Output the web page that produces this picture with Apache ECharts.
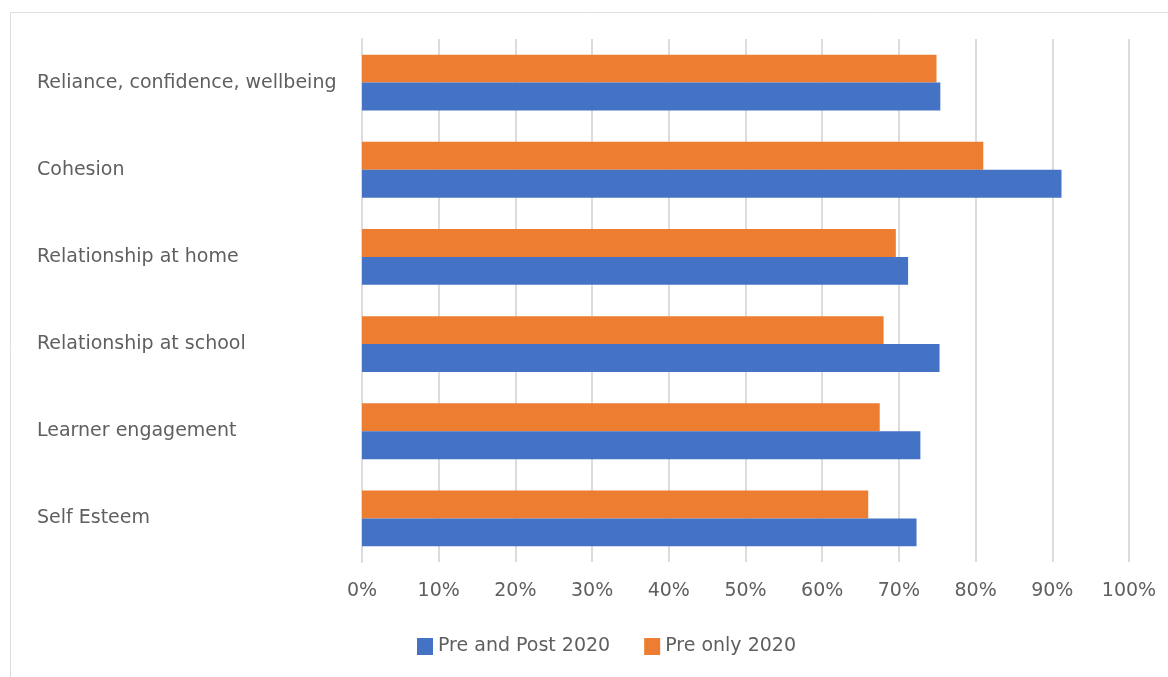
<!DOCTYPE html>
<html lang="en">
   <head>
      <meta charset="utf-8">
      <title>Pre and Post 2020</title>
      <script type="text/javascript" src="https://cdn.jsdelivr.net/npm/echarts@6/dist/echarts.min.js"></script>
      <style>
         html, body { margin: 0; padding: 0; background: #fff; }
         #main { width: 1168px; height: 677px; }
      </style>
   </head>
   <body>
      <div id="main"></div>
      <script>
         var categories = ['Reliance, confidence, wellbeing', 'Cohesion', 'Relationship at home',
                           'Relationship at school', 'Learner engagement', 'Self Esteem'];
         var prePost = [75.4, 91.2, 71.2, 75.3, 72.8, 72.3];   // Pre and Post 2020
         var preOnly = [74.9, 81.0, 69.6, 68.0, 67.5, 66.0];   // Pre only 2020
         var ticks = [0, 10, 20, 30, 40, 50, 60, 70, 80, 90, 100];

         var textColor = '#5f5f5f';
         var font = 'DejaVu Sans';

         var chart = echarts.init(document.getElementById('main'), null, {renderer: 'canvas'});
         chart.setOption({
            animation: false,
            graphic: [{
               type: 'rect',
               shape: {x: 10.5, y: 12.5, width: 1170, height: 670},
               style: {fill: 'none', stroke: '#dedede', lineWidth: 1}
            }],
            legend: {
               data: ['Pre and Post 2020', 'Pre only 2020'],
               left: 417,
               top: 637,
               itemWidth: 16,
               itemHeight: 17,
               itemGap: 34,
               padding: 0,
               icon: 'rect',
               textStyle: {color: textColor, fontSize: 19, fontFamily: font, lineHeight: 17}
            },
            grid: {left: 362, right: 39, top: 39, bottom: 115},
            xAxis: {
               type: 'value',
               min: 0,
               max: 100,
               interval: 10,
               axisLine: {show: false},
               axisTick: {show: false},
               splitLine: {lineStyle: {color: '#dcdcdc', width: 2}},
               axisLabel: {
                  color: textColor, fontSize: 19, fontFamily: font, margin: 20,
                  formatter: function (v) { return ticks.indexOf(v) >= 0 ? v + '%' : ''; }
               }
            },
            yAxis: {
               type: 'category',
               data: categories,
               inverse: true,
               axisLine: {show: true, lineStyle: {color: '#dcdcdc', width: 2}},
               axisTick: {show: false},
               axisLabel: {color: textColor, fontSize: 19, fontFamily: font, align: 'left', margin: 325}
            },
            series: [
               {
                  name: 'Pre only 2020',
                  type: 'bar',
                  data: preOnly,
                  itemStyle: {color: '#ED7D31'},
                  barGap: '0%',
                  barCategoryGap: '36%'
               },
               {
                  name: 'Pre and Post 2020',
                  type: 'bar',
                  data: prePost,
                  itemStyle: {color: '#4472C4'},
                  barGap: '0%',
                  barCategoryGap: '36%'
               }
            ]
         });
      </script>
   </body>
</html>
